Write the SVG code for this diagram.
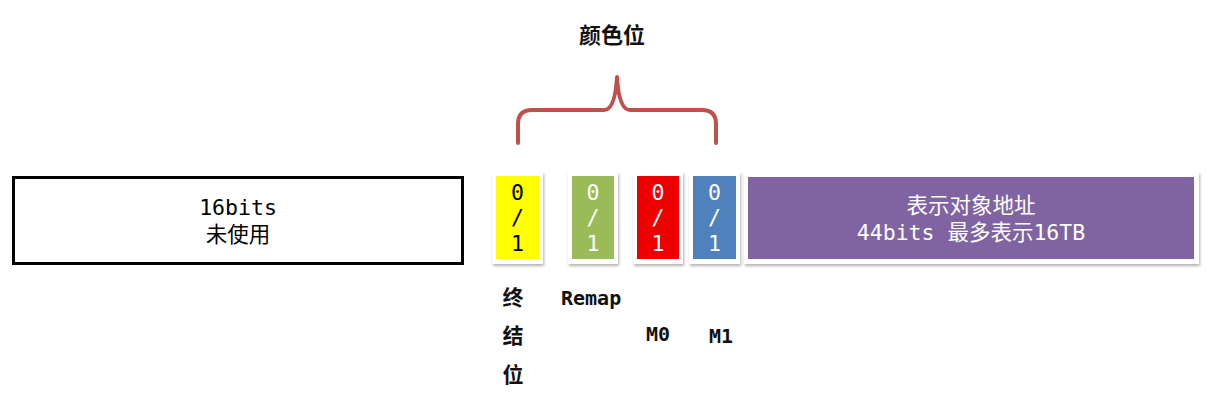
<svg xmlns="http://www.w3.org/2000/svg" width="1215" height="401" viewBox="0 0 1215 401">
<defs>
<filter id="sh" x="-20%" y="-20%" width="140%" height="140%">
<feDropShadow dx="1" dy="2" stdDeviation="1.5" flood-color="#000" flood-opacity="0.3"/>
</filter>
</defs>
<style>
.mono{font-family:"DejaVu Sans Mono","Noto Sans CJK SC",monospace;font-size:21.5px;text-anchor:middle}
.cjk{font-family:"Noto Sans CJK SC",sans-serif;font-size:21.5px;text-anchor:middle}
.lbl{font-family:"DejaVu Sans Mono","Noto Sans CJK SC",monospace;font-size:20px;font-weight:bold;fill:#111}
.frame{fill:#fff;filter:url(#sh)}
.w{fill:#fff}
</style>
<rect width="1215" height="401" fill="#fff"/>
<g id="unused">
<rect x="13.5" y="177.5" width="449" height="86" fill="#fff" stroke="#000" stroke-width="3"/>
<text class="mono" x="238" y="215">16bits</text>
<text class="cjk" x="238" y="242">未使用</text>
</g>
<g id="finalizable">
<rect class="frame" x="492" y="172" width="51" height="92"/>
<rect x="496" y="176" width="43" height="83" fill="#ffff00"/>
<text class="mono" x="517.5" y="200">0</text>
<text class="mono" x="517.5" y="225">/</text>
<text class="mono" x="517.5" y="251">1</text>
</g>
<g id="remap">
<rect class="frame" x="568" y="172" width="50" height="92"/>
<rect x="572" y="176" width="42" height="83" fill="#9bbb59"/>
<text class="mono w" x="593" y="200">0</text>
<text class="mono w" x="593" y="225">/</text>
<text class="mono w" x="593" y="251">1</text>
</g>
<g id="m0">
<rect class="frame" x="633" y="172" width="50" height="92"/>
<rect x="637" y="176" width="42" height="83" fill="#ee0000"/>
<text class="mono w" x="658" y="200">0</text>
<text class="mono w" x="658" y="225">/</text>
<text class="mono w" x="658" y="251">1</text>
</g>
<g id="m1">
<rect class="frame" x="689" y="172" width="51" height="92"/>
<rect x="693" y="176" width="43" height="83" fill="#4f81bd"/>
<text class="mono w" x="714.5" y="200">0</text>
<text class="mono w" x="714.5" y="225">/</text>
<text class="mono w" x="714.5" y="251">1</text>
</g>
<g id="address">
<rect class="frame" x="744" y="172" width="455" height="92"/>
<rect x="748" y="177" width="446" height="82" fill="#8064a2"/>
<text class="cjk w" x="971" y="213">表示对象地址</text>
<text class="mono w" x="971" y="240">44bits 最多表示16TB</text>
</g>
<g id="connectors">
<path d="M518,143 V124 Q518,110 532,110 H604 Q615,110 617,77 Q619,110 630,110 H702 Q716,110 716,124 V143" fill="none" stroke="#c0504d" stroke-width="4" stroke-linecap="round" stroke-linejoin="round"/>
</g>
<g id="labels">
<text x="612" y="43" style="font-family:'Noto Sans CJK SC',sans-serif;font-size:22px;font-weight:bold;text-anchor:middle;fill:#111">颜色位</text>
<text x="513" y="305" style="font-family:'Noto Sans CJK SC',sans-serif;font-size:21px;font-weight:bold;text-anchor:middle;fill:#111">终</text>
<text x="513" y="343" style="font-family:'Noto Sans CJK SC',sans-serif;font-size:21px;font-weight:bold;text-anchor:middle;fill:#111">结</text>
<text x="513" y="382" style="font-family:'Noto Sans CJK SC',sans-serif;font-size:21px;font-weight:bold;text-anchor:middle;fill:#111">位</text>
<text class="lbl" x="561" y="305">Remap</text>
<text class="lbl" x="646" y="341">M0</text>
<text class="lbl" x="709" y="343">M1</text>
</g>
</svg>
